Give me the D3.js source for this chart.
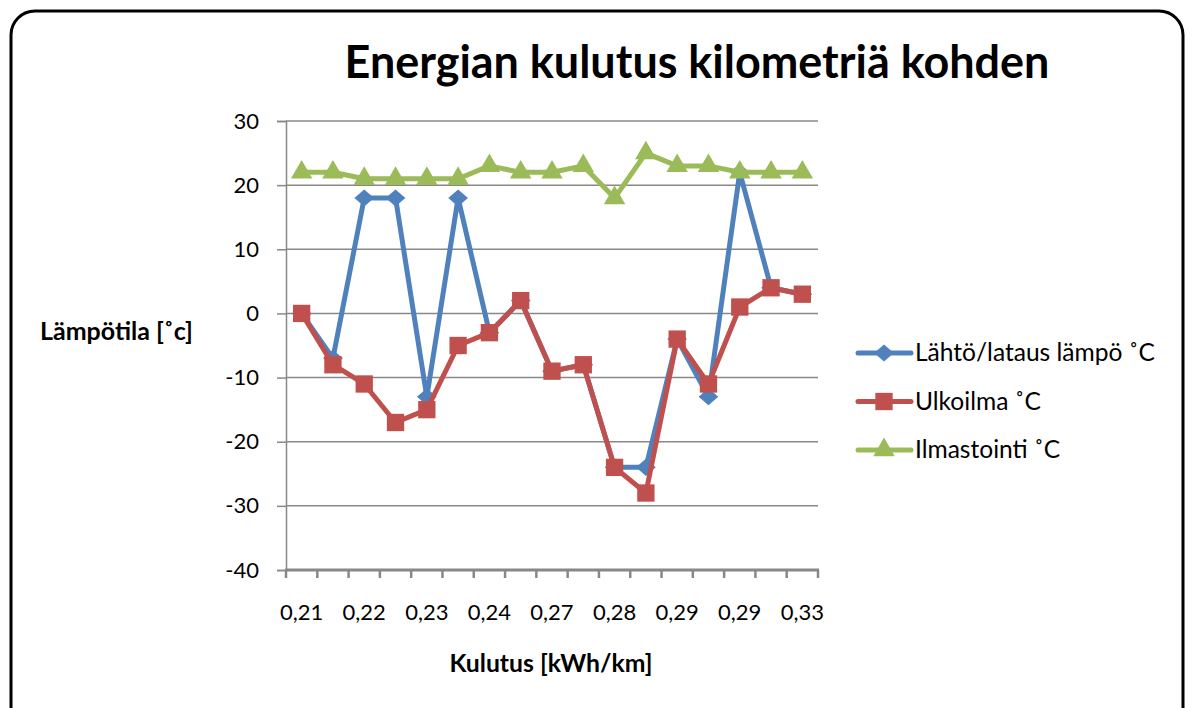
<!DOCTYPE html>
<html>
<head>
<meta charset="utf-8">
<script src="https://cdn.jsdelivr.net/npm/d3@7"></script>
<style>
  body { margin: 0; background: #fff; }
  text { font-family: Lato, "Open Sans", sans-serif; fill: #000; }
</style>
</head>
<body>
<div id="chart"></div>
<script>
// categories (every other label is shown on the axis)
var categories = ["0,21", "0,21", "0,22", "0,22", "0,23", "0,23", "0,24", "0,25", "0,27",
  "0,27", "0,28", "0,28", "0,29", "0,29", "0,29", "0,31", "0,33"];
var lahto = [0, -7, 18, 18, -13, 18, -3, 2, -9, -8, -24, -24, -4, -13, 22, 4, 3];
var ulkoilma = [0, -8, -11, -17, -15, -5, -3, 2, -9, -8, -24, -28, -4, -11, 1, 4, 3];
var ilmastointi = [22, 22, 21, 21, 21, 21, 23, 22, 22, 23, 18, 25, 23, 23, 22, 22, 22];
var yTicks = [30, 20, 10, 0, -10, -20, -30, -40];
var seriesNames = ["Lähtö/lataus lämpö ˚C", "Ulkoilma ˚C", "Ilmastointi ˚C"];

var width = 1190, height = 708;
var plot = { left: 286, right: 818, top: 121, bottom: 570 };

var svg = d3.select("#chart").append("svg")
  .attr("width", width).attr("height", height);

// scale a text's font so it spans the wanted width
function fit(sel, w) {
  var len = sel.node().getComputedTextLength();
  var fs = parseFloat(sel.style("font-size"));
  sel.style("font-size", (fs * w / len) + "px");
}

// outer frame
svg.append("rect")
  .attr("x", 11).attr("y", 11)
  .attr("width", 1172).attr("height", 740)
  .attr("rx", 24).attr("ry", 24)
  .attr("fill", "#fff").attr("stroke", "#000").attr("stroke-width", 3);

var xScale = d3.scaleBand()
  .domain(d3.range(categories.length))
  .range([plot.left, plot.right]);
var yScale = d3.scaleLinear()
  .domain([-40, 30])
  .range([plot.bottom, plot.top]);

// gridlines
svg.append("g")
  .selectAll("line").data(yTicks.filter(function(d) { return d !== -40; })).enter()
  .append("line")
  .attr("x1", plot.left).attr("x2", plot.right)
  .attr("y1", function(d) { return yScale(d); })
  .attr("y2", function(d) { return yScale(d); })
  .attr("stroke", "#888").attr("stroke-width", 1.5);

// y axis
var yAxis = d3.axisLeft(yScale).tickValues(yTicks)
  .tickFormat(function(d) { return String(d); })
  .tickSize(9).tickPadding(18);
var gy = svg.append("g")
  .attr("transform", "translate(" + plot.left + ",0)")
  .call(yAxis);
gy.select(".domain").attr("stroke", "#888").attr("stroke-width", 1.5);
gy.selectAll(".tick line").attr("stroke", "#888").attr("stroke-width", 1.5);
gy.selectAll(".tick text").style("font-size", "22px").attr("fill", "#000");

// x axis: ticks between categories
var gx = svg.append("g")
  .attr("transform", "translate(0," + plot.bottom + ")");
gx.append("line")
  .attr("x1", plot.left - 1).attr("x2", plot.right + 1)
  .attr("stroke", "#888").attr("stroke-width", 3);
gx.selectAll(".xtick").data(d3.range(categories.length + 1)).enter()
  .append("line")
  .attr("x1", function(i) { return plot.left + i * xScale.step(); })
  .attr("x2", function(i) { return plot.left + i * xScale.step(); })
  .attr("y1", 0).attr("y2", 8)
  .attr("stroke", "#888").attr("stroke-width", 2.5);
var shown = d3.range(0, categories.length, 2);
gx.selectAll(".xlabel").data(shown).enter()
  .append("text")
  .attr("x", function(i) { return xScale(i) + xScale.bandwidth() / 2; })
  .attr("y", 50)
  .attr("text-anchor", "middle")
  .style("font-size", "22px")
  .text(function(i) { return categories[i]; });

// titles
var title = svg.append("text")
  .attr("x", 697).attr("y", 78)
  .attr("text-anchor", "middle")
  .style("font-size", "40px").style("font-weight", "bold")
  .text("Energian kulutus kilometriä kohden");
fit(title, 705);
var yTitle = svg.append("text")
  .attr("x", 40).attr("y", 340)
  .style("font-size", "20px").style("font-weight", "bold")
  .text("Lämpötila [˚c]");
fit(yTitle, 153);
var xTitle = svg.append("text")
  .attr("x", 551).attr("y", 672)
  .attr("text-anchor", "middle")
  .style("font-size", "20px").style("font-weight", "bold")
  .text("Kulutus [kWh/km]");
fit(xTitle, 203);

var colors = ["#4F81BD", "#C0504D", "#9BBB59"];
var allSeries = [lahto, ulkoilma, ilmastointi];
var symbols = [
  d3.symbol().type(d3.symbolDiamond).size(84),
  d3.symbol().type(d3.symbolSquare).size(300),
  d3.symbol().type(d3.symbolTriangle).size(200)
];
var symScale = ["scale(2,1)", "", ""];

var line = d3.line()
  .x(function(d, i) { return xScale(i) + xScale.bandwidth() / 2; })
  .y(function(d) { return yScale(d); });

allSeries.forEach(function(vals, s) {
  var g = svg.append("g");
  g.append("path")
    .datum(vals)
    .attr("d", line)
    .attr("fill", "none")
    .attr("stroke", colors[s])
    .attr("stroke-width", 5)
    .attr("stroke-linejoin", "round");
  g.selectAll("path.mk").data(vals).enter()
    .append("path")
    .attr("class", "mk")
    .attr("d", symbols[s])
    .attr("transform", function(d, i) {
      return "translate(" + (xScale(i) + xScale.bandwidth() / 2) + "," + yScale(d) + ")" + symScale[s];
    })
    .attr("fill", colors[s]);
});

// legend
var legend = svg.append("g");
seriesNames.forEach(function(name, s) {
  var ly = 353 + s * 48.5;
  legend.append("line")
    .attr("x1", 858).attr("x2", 911)
    .attr("y1", ly).attr("y2", ly)
    .attr("stroke", colors[s]).attr("stroke-width", 5)
    .attr("stroke-linecap", "round");
  legend.append("path")
    .attr("d", symbols[s])
    .attr("transform", "translate(884," + ly + ")" + symScale[s])
    .attr("fill", colors[s]);
  var t = legend.append("text")
    .attr("x", 915).attr("y", ly + 8)
    .style("font-size", "22px")
    .text(name);
  if (s === 0) fit(t, 240);
  else t.style("font-size", legend.select("text").style("font-size"));
});
</script>
</body>
</html>
